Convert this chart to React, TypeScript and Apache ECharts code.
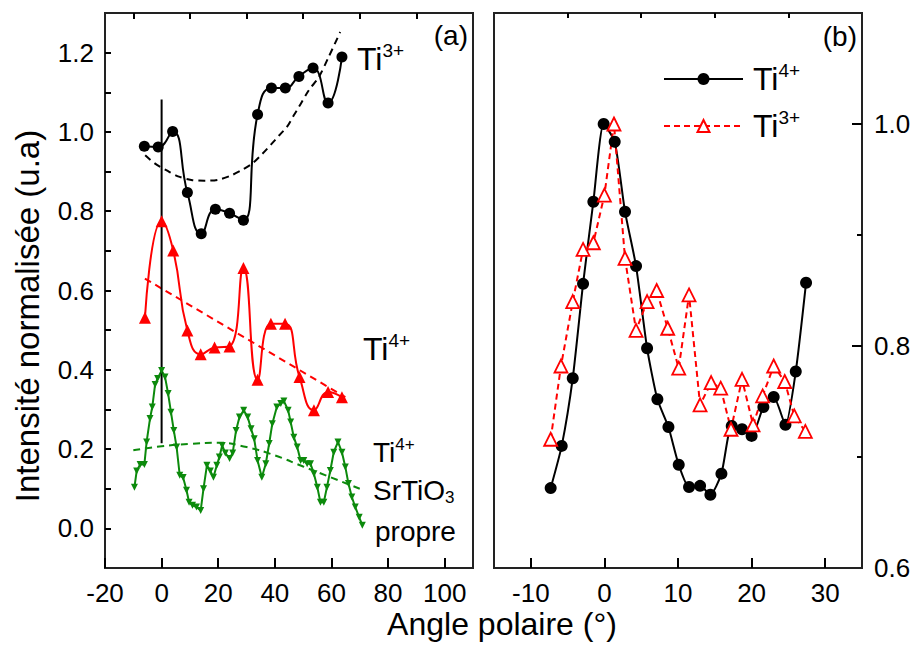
import React, { useEffect, useRef } from "react";
import * as echarts from "echarts";

// ---------- Panel (a) data ----------
const ti3AX = [-6.1, -1.2, 3.9, 9.1, 14.0, 19.0, 24.0, 28.9, 33.9, 38.8, 43.7, 48.5, 53.5, 58.8, 63.7];
const ti3AY = [0.964, 0.962, 1.001, 0.847, 0.743, 0.805, 0.795, 0.777, 1.044, 1.111, 1.111, 1.14, 1.161, 1.073, 1.189];
const ti3FitX = [-5.8, -2.3, 1.8, 5.8, 10.5, 15.2, 19.8, 24.5, 28.6, 32.1, 35.6, 38.6, 41.5, 44.4, 46.7, 48.5, 52.0, 55.5, 59.0, 63.1];
const ti3FitY = [0.941, 0.92, 0.903, 0.888, 0.879, 0.877, 0.879, 0.89, 0.905, 0.921, 0.945, 0.968, 0.991, 1.014, 1.042, 1.063, 1.105, 1.138, 1.189, 1.252];

const ti4AX = [-5.9, 0, 4.1, 9.1, 13.8, 18.7, 24.0, 28.9, 33.9, 38.6, 43.6, 48.7, 53.8, 58.8, 63.7];
const ti4AY = [0.531, 0.775, 0.701, 0.499, 0.439, 0.456, 0.459, 0.657, 0.375, 0.516, 0.516, 0.382, 0.298, 0.344, 0.331];
const ti4FitX = [-5.9, 64.9];
const ti4FitY = [0.63, 0.331];

const stoX = [-9.6, -8.8, -7.6, -6.1, -5.3, -4.1, -3.3, -2.3, -1.4, 0, 1.2, 2.3, 3.3, 4.3, 5.3, 6.4, 7.6, 8.8, 9.7, 10.9, 12.3, 13.8, 14.8, 16.0, 17.2, 18.3, 19.5, 20.4, 21.4, 22.5, 24.0, 25.1, 26.3, 27.5, 29.0, 30.4, 31.6, 32.7, 33.9, 35.4, 36.8, 38.0, 39.1, 40.7, 42.1, 43.2, 44.7, 45.6, 46.7, 47.9, 49.1, 50.2, 51.4, 52.6, 53.8, 55.0, 56.1, 57.3, 58.4, 59.6, 60.8, 62.3, 63.7, 64.9, 66.0, 67.2, 68.4, 69.8, 70.9];
const stoY = [0.104, 0.145, 0.161, 0.161, 0.218, 0.277, 0.306, 0.363, 0.378, 0.398, 0.382, 0.34, 0.293, 0.247, 0.205, 0.134, 0.128, 0.096, 0.066, 0.058, 0.054, 0.045, 0.1, 0.159, 0.145, 0.129, 0.159, 0.18, 0.209, 0.19, 0.176, 0.19, 0.247, 0.281, 0.298, 0.281, 0.251, 0.226, 0.171, 0.129, 0.163, 0.214, 0.264, 0.306, 0.315, 0.321, 0.298, 0.268, 0.23, 0.205, 0.171, 0.171, 0.163, 0.163, 0.138, 0.104, 0.066, 0.066, 0.104, 0.146, 0.192, 0.218, 0.192, 0.155, 0.113, 0.079, 0.054, 0.028, 0.008];
const stoFitX = [-10, 0, 10, 20, 30, 40, 50, 60, 70];
const stoFitY = [0.197, 0.207, 0.213, 0.216, 0.205, 0.184, 0.156, 0.128, 0.1];

const refLineX = [0, 0];
const refLineY = [0.215, 1.082];

// ---------- Panel (b) data ----------
const ti4BX = [-7.3, -5.8, -4.3, -2.9, -1.5, -0.1, 1.4, 2.8, 4.3, 5.8, 7.2, 8.7, 10.1, 11.5, 13.0, 14.4, 15.9, 17.3, 18.7, 20.0, 21.6, 23.0, 24.6, 26.0, 27.4];
const ti4BY = [0.672, 0.71, 0.771, 0.856, 0.93, 1.0, 0.984, 0.921, 0.872, 0.798, 0.752, 0.727, 0.693, 0.673, 0.674, 0.666, 0.685, 0.728, 0.725, 0.719, 0.745, 0.754, 0.729, 0.777, 0.857];
const ti3BX = [-7.3, -5.9, -4.3, -2.9, -1.5, 0, 1.3, 2.8, 4.3, 5.8, 7.1, 8.6, 10.1, 11.5, 13.0, 14.5, 15.8, 17.2, 18.7, 20.2, 21.5, 23.0, 24.5, 25.8, 27.3];
const ti3BY = [0.716, 0.782, 0.84, 0.887, 0.893, 0.936, 1.0, 0.879, 0.814, 0.84, 0.85, 0.816, 0.78, 0.846, 0.747, 0.767, 0.762, 0.725, 0.77, 0.729, 0.755, 0.782, 0.768, 0.737, 0.723];

// ---------- Ticks / labels ----------
const xLabelsA = [-20, 0, 20, 40, 60, 80, 100];
const xMinorA = [-10, 10, 30, 50, 70, 90];
const yLabelsA = [0, 0.2, 0.4, 0.6, 0.8, 1.0, 1.2];
const yTicksA = [0, 0.1, 0.2, 0.3, 0.4, 0.5, 0.6, 0.7, 0.8, 0.9, 1.0, 1.1, 1.2];
const xLabelsB = [-10, 0, 10, 20, 30];
const xMinorB = [-5, 5, 15, 25];
const yLabelsB = [0.6, 0.8, 1.0];
const yMinorB = [0.7, 0.9];

const FONT = "'Liberation Sans', Arial, Helvetica, sans-serif";
const RED = "#ff0000";
const GREEN = "#0c8a0c";

const zip = (xs: number[], ys: number[]) => xs.map((x, i) => [x, ys[i]]);

const supRich = (big: number, small: number) => ({
  b: { fontSize: big, fontFamily: FONT, color: "#000", lineHeight: big + 4 },
  s: { fontSize: small, fontFamily: FONT, color: "#000", lineHeight: 14, verticalAlign: "top" },
  d: { fontSize: small, fontFamily: FONT, color: "#000", lineHeight: 12, verticalAlign: "bottom" },
});

export default function App() {
  const ref = useRef<HTMLDivElement>(null);
  useEffect(() => {
    if (!ref.current) return;
    const chart = echarts.init(ref.current, null, { renderer: "svg" });
    const tickStyle = { color: "#000", width: 2 };
    const labelBase = { color: "#000", fontSize: 26, fontFamily: FONT };
    const baseValueAxis = {
      type: "value",
      axisLine: { show: false, onZero: false },
      splitLine: { show: false },
    };
    const option: any = {
      animation: false,
      backgroundColor: "#fff",
      grid: [
        { left: 105, top: 13, width: 368, height: 555, show: true, borderColor: "#222", borderWidth: 2, containLabel: false },
        { left: 494, top: 13, width: 368, height: 555, show: true, borderColor: "#222", borderWidth: 2, containLabel: false },
      ],
      xAxis: [
        {
          ...baseValueAxis, gridIndex: 0, min: -20, max: 110,
          axisTick: { inside: true, length: 10, lineStyle: tickStyle, customValues: xLabelsA },
          axisLabel: { ...labelBase, margin: 12, customValues: xLabelsA },
        },
        {
          ...baseValueAxis, gridIndex: 0, min: -20, max: 110,
          axisTick: { inside: true, length: 6, lineStyle: tickStyle, customValues: xMinorA },
          axisLabel: { show: false },
        },
        {
          ...baseValueAxis, gridIndex: 1, min: -15, max: 35,
          axisTick: { inside: true, length: 10, lineStyle: tickStyle, customValues: xLabelsB },
          axisLabel: { ...labelBase, margin: 12, customValues: xLabelsB },
        },
        {
          ...baseValueAxis, gridIndex: 1, min: -15, max: 35,
          axisTick: { inside: true, length: 5, lineStyle: tickStyle, customValues: xMinorB },
          axisLabel: { show: false },
        },
      ],
      yAxis: [
        {
          ...baseValueAxis, gridIndex: 0, min: -0.1, max: 1.3,
          axisTick: { inside: true, length: 6, lineStyle: tickStyle, customValues: yTicksA },
          axisLabel: { ...labelBase, margin: 11, customValues: yLabelsA, formatter: (v: number) => v.toFixed(1) },
        },
        {
          ...baseValueAxis, gridIndex: 1, position: "right", min: 0.6, max: 1.1,
          axisTick: { inside: true, length: 10, lineStyle: tickStyle, customValues: [0.8, 1.0] },
          axisLabel: { ...labelBase, margin: 12, customValues: yLabelsB, formatter: (v: number) => v.toFixed(1) },
        },
        {
          ...baseValueAxis, gridIndex: 1, position: "right", min: 0.6, max: 1.1,
          axisTick: { inside: true, length: 5, lineStyle: tickStyle, customValues: yMinorB },
          axisLabel: { show: false },
        },
      ],
      legend: {
        data: ["Ti4+", "Ti3+"],
        orient: "vertical",
        left: 663,
        top: 61,
        padding: 0,
        itemWidth: 79,
        itemHeight: 15,
        itemGap: 13,
        selectedMode: false,
        formatter: (name: string) => (name === "Ti4+" ? "{b|Ti}{s|4+}" : "{b|Ti}{s|3+}"),
        textStyle: { fontFamily: FONT, fontSize: 32, color: "#000", padding: [0, 0, 0, 5], rich: supRich(32, 19) },
      },
      series: [
        {
          name: "a-ti3", type: "line", xAxisIndex: 0, yAxisIndex: 0, data: zip(ti3AX, ti3AY),
          smooth: 0.5, symbol: "circle", symbolSize: 11, color: "#000", lineStyle: { width: 2, color: "#000" },
        },
        {
          name: "a-ti3-fit", type: "line", xAxisIndex: 0, yAxisIndex: 0, data: zip(ti3FitX, ti3FitY),
          smooth: 0.3, symbol: "none", lineStyle: { width: 2, color: "#000", type: [7, 5] },
        },
        {
          name: "a-ti4", type: "line", xAxisIndex: 0, yAxisIndex: 0, data: zip(ti4AX, ti4AY),
          smooth: 0.5, symbol: "triangle", symbolSize: 12, color: RED, lineStyle: { width: 2, color: RED },
        },
        {
          name: "a-ti4-fit", type: "line", xAxisIndex: 0, yAxisIndex: 0, data: zip(ti4FitX, ti4FitY),
          symbol: "none", lineStyle: { width: 2, color: RED, type: [7, 5] },
        },
        {
          name: "a-sto", type: "line", xAxisIndex: 0, yAxisIndex: 0, data: zip(stoX, stoY),
          symbol: "triangle", symbolRotate: 180, symbolSize: 7, color: GREEN, lineStyle: { width: 2, color: GREEN },
        },
        {
          name: "a-sto-fit", type: "line", xAxisIndex: 0, yAxisIndex: 0, data: zip(stoFitX, stoFitY),
          smooth: true, symbol: "none", lineStyle: { width: 2, color: GREEN, type: [7, 5] },
        },
        {
          name: "a-ref", type: "line", xAxisIndex: 0, yAxisIndex: 0, data: zip(refLineX, refLineY),
          symbol: "none", lineStyle: { width: 2, color: "#000" },
        },
        {
          name: "Ti4+", type: "line", xAxisIndex: 2, yAxisIndex: 1, data: zip(ti4BX, ti4BY),
          smooth: 0.2, symbol: "circle", symbolSize: 12, color: "#000", lineStyle: { width: 2, color: "#000" },
        },
        {
          name: "Ti3+", type: "line", xAxisIndex: 2, yAxisIndex: 1, data: zip(ti3BX, ti3BY),
          symbol: "triangle", symbolSize: 13,
          itemStyle: { color: "#fff", borderColor: RED, borderWidth: 1.8 },
          lineStyle: { width: 2, color: RED, type: [6, 4] },
        },
      ],
      graphic: [
        { type: "text", style: { text: "(a)", x: 468, y: 35, align: "right", verticalAlign: "middle", fontSize: 28, fontFamily: FONT, fill: "#000" } },
        { type: "text", style: { text: "(b)", x: 857, y: 36, align: "right", verticalAlign: "middle", fontSize: 28, fontFamily: FONT, fill: "#000" } },
        { type: "text", style: { text: "{b|Ti}{s|3+}", x: 357, y: 59, align: "left", verticalAlign: "middle", rich: supRich(32, 19) } },
        { type: "text", style: { text: "{b|Ti}{s|4+}", x: 363, y: 349, align: "left", verticalAlign: "middle", rich: supRich(32, 19) } },
        { type: "text", style: { text: "{b|Ti}{s|4+}", x: 373, y: 452, align: "left", verticalAlign: "middle", rich: supRich(28, 17) } },
        { type: "text", style: { text: "{b|SrTiO}{d|3}", x: 373, y: 490, align: "left", verticalAlign: "middle", rich: supRich(28, 17) } },
        { type: "text", style: { text: "propre", x: 375, y: 531, align: "left", verticalAlign: "middle", fontSize: 28, fontFamily: FONT, fill: "#000" } },
        { type: "text", rotation: Math.PI / 2, x: 27, y: 316, style: { text: "Intensité normalisée (u.a)", x: 0, y: 0, align: "center", verticalAlign: "middle", fontSize: 33, fontFamily: FONT, fill: "#000" } },
        { type: "text", style: { text: "Angle polaire (°)", x: 502, y: 624, align: "center", verticalAlign: "middle", fontSize: 32, fontFamily: FONT, fill: "#000" } },
      ],
    };
    chart.setOption(option);
    return () => chart.dispose();
  }, []);
  return <div ref={ref} style={{ position: "fixed", left: 0, top: 0, width: 915, height: 646, background: "#fff" }} />;
}
